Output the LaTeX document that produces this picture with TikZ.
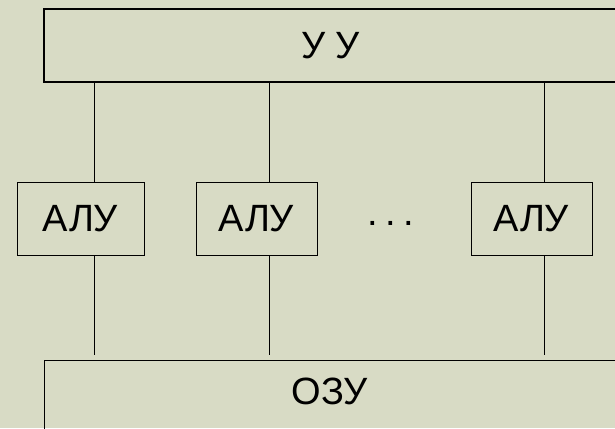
\documentclass[tikz,border=0pt]{standalone}
\usepackage{fontspec}
\setmainfont{Liberation Sans}
\definecolor{bgpaper}{RGB}{216,219,197}
\begin{document}
\begin{tikzpicture}[x=1pt,y=-1pt,
  bigbox/.style={draw=black, line width=1.3pt, minimum width=573pt, minimum height=73pt, inner sep=0pt, font=\fontsize{38}{40}\selectfont},
  alubox/.style={draw=black, line width=1pt, minimum height=73pt, inner sep=0pt, font=\fontsize{38}{40}\selectfont},
  bigtext/.style={inner sep=0pt, font=\fontsize{38}{40}\selectfont},
  wire/.style={draw=black, line width=0.9pt}]
\useasboundingbox (0,0) rectangle (615,428);
\fill[bgpaper] (0,0) rectangle (615,428);
\node[bigbox] (uu) at (330.5,45.5) {У У};
\node[alubox, minimum width=127pt] (alu1) at (80.5,218.5) {АЛУ};
\node[alubox, minimum width=121pt] (alu2) at (256.5,218.5) {АЛУ};
\node[alubox, minimum width=121pt] (alu3) at (531.5,218.5) {АЛУ};
\node[bigtext, anchor=base] (dots) at (391,225) {.\kern7.4pt.\kern7.4pt.};
\node[bigbox, line width=1pt, anchor=north west] (ozu) at (44,360) {};
\node[bigtext] (ozutext) at (330,391) {ОЗУ};
\coordinate (c1) at (94,0);
\coordinate (c2) at (269,0);
\coordinate (c3) at (544,0);
\coordinate (b1) at (94,355);
\coordinate (b2) at (269,355);
\coordinate (b3) at (544,355);
\draw[wire] (uu.south -| c1) -- (alu1.north -| c1);
\draw[wire] (uu.south -| c2) -- (alu2.north -| c2);
\draw[wire] (uu.south -| c3) -- (alu3.north -| c3);
\draw[wire] (alu1.south -| c1) -- (b1);
\draw[wire] (alu2.south -| c2) -- (b2);
\draw[wire] (alu3.south -| c3) -- (b3);
\end{tikzpicture}
\end{document}
